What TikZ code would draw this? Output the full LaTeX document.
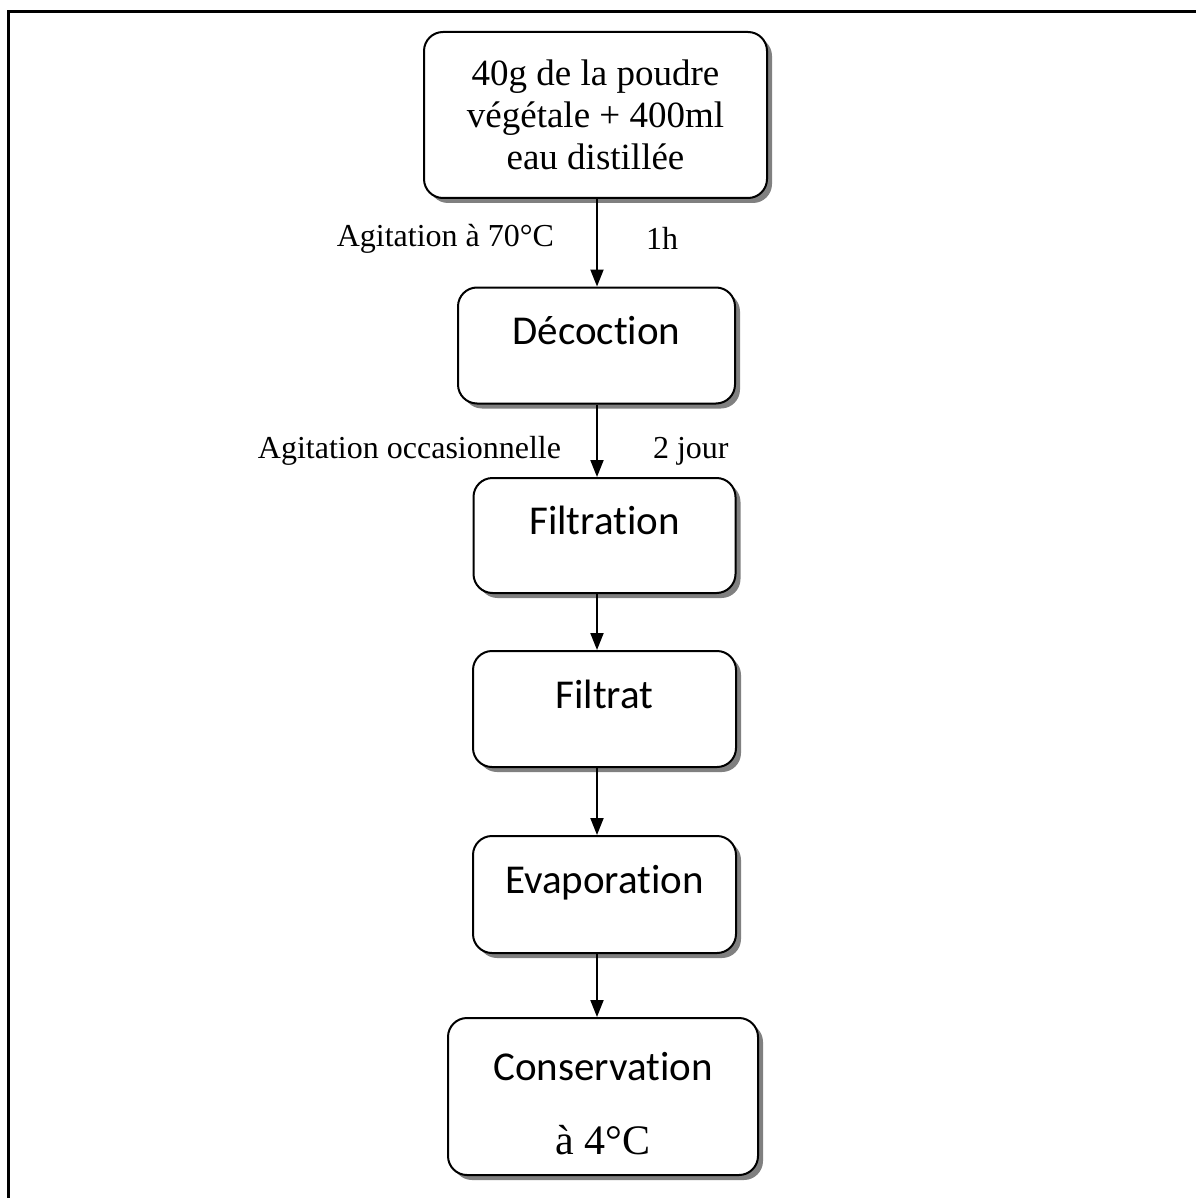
\documentclass[tikz,border=0pt]{standalone}
\usepackage{fontspec}
\setmainfont{Liberation Serif}
\newfontfamily\calibri[Ligatures=NoCommon]{Carlito}
\usetikzlibrary{arrows.meta,shadows,positioning}

\tikzset{
	etape/.style={draw, line width=1pt, rounded corners=9.5pt, fill=white, inner sep=0pt,
		drop shadow={shadow xshift=2.5pt, shadow yshift=-2.5pt, fill=gray, opacity=1},
		align=center},
	etapecal/.style={etape, font=\calibri\fontsize{20.5}{25}\selectfont,
		text height=14pt, text depth=14.8pt},
	lbl/.style={inner sep=0pt, font=\fontsize{16}{19}\selectfont},
	flow/.style={-{Triangle[length=8.5pt,width=6.5pt]}, line width=1pt}
}

\begin{document}
\begin{tikzpicture}[x=0.5pt,y=-0.5pt]
	\useasboundingbox (0,0) rectangle (1195,1198);
	% cadre
	\draw [black, line width=1.5pt] (8,1215) -- (8,12) -- (1215,12);

	% etapes
	\node [etape, minimum width=171.5pt, minimum height=83pt, font=\fontsize{18.5}{21}\selectfont] (poudre) at (595.5,115) {40g de la poudre\\végétale + 400ml\\eau distillée};
	\node [etapecal, minimum width=138.5pt, minimum height=58pt] (decoction) at (596.5,345.5) {Décoction};
	\node [etapecal, minimum width=131pt, minimum height=57.5pt] (filtration) at (604.5,535.5) {Filtration};
	\node [etapecal, minimum width=131.5pt, minimum height=58pt] (filtrat) at (604.5,709) {Filtrat};
	\node [etapecal, minimum width=131.5pt, minimum height=58.5pt] (evaporation) at (604.5,894.5) {Evaporation};
	\node [etape, minimum width=155pt, minimum height=78.5pt, font=\fontsize{21}{25}\selectfont] (conservation) at (603,1096.5) {{\calibri\fontsize{20.5}{25}\selectfont\rule{0pt}{21pt}Conservation}\\[12pt]à 4°C};

	% fleches
	\coordinate (axe) at (597,0);
	\draw [flow] (axe |- poudre.south) -- node [lbl, pos=0.45, left=21pt] {Agitation à 70°C} node [lbl, pos=0.45, right=24pt] {1h} (axe |- decoction.north);
	\draw [flow] (axe |- decoction.south) -- node [lbl, pos=0.64, left=17.5pt] {Agitation occasionnelle} node [lbl, pos=0.64, right=27.5pt] {2 jour} (axe |- filtration.north);
	\draw [flow] (axe |- filtration.south) -- (axe |- filtrat.north);
	\draw [flow] (axe |- filtrat.south) -- (axe |- evaporation.north);
	\draw [flow] (axe |- evaporation.south) -- (axe |- conservation.north);
\end{tikzpicture}
\end{document}
